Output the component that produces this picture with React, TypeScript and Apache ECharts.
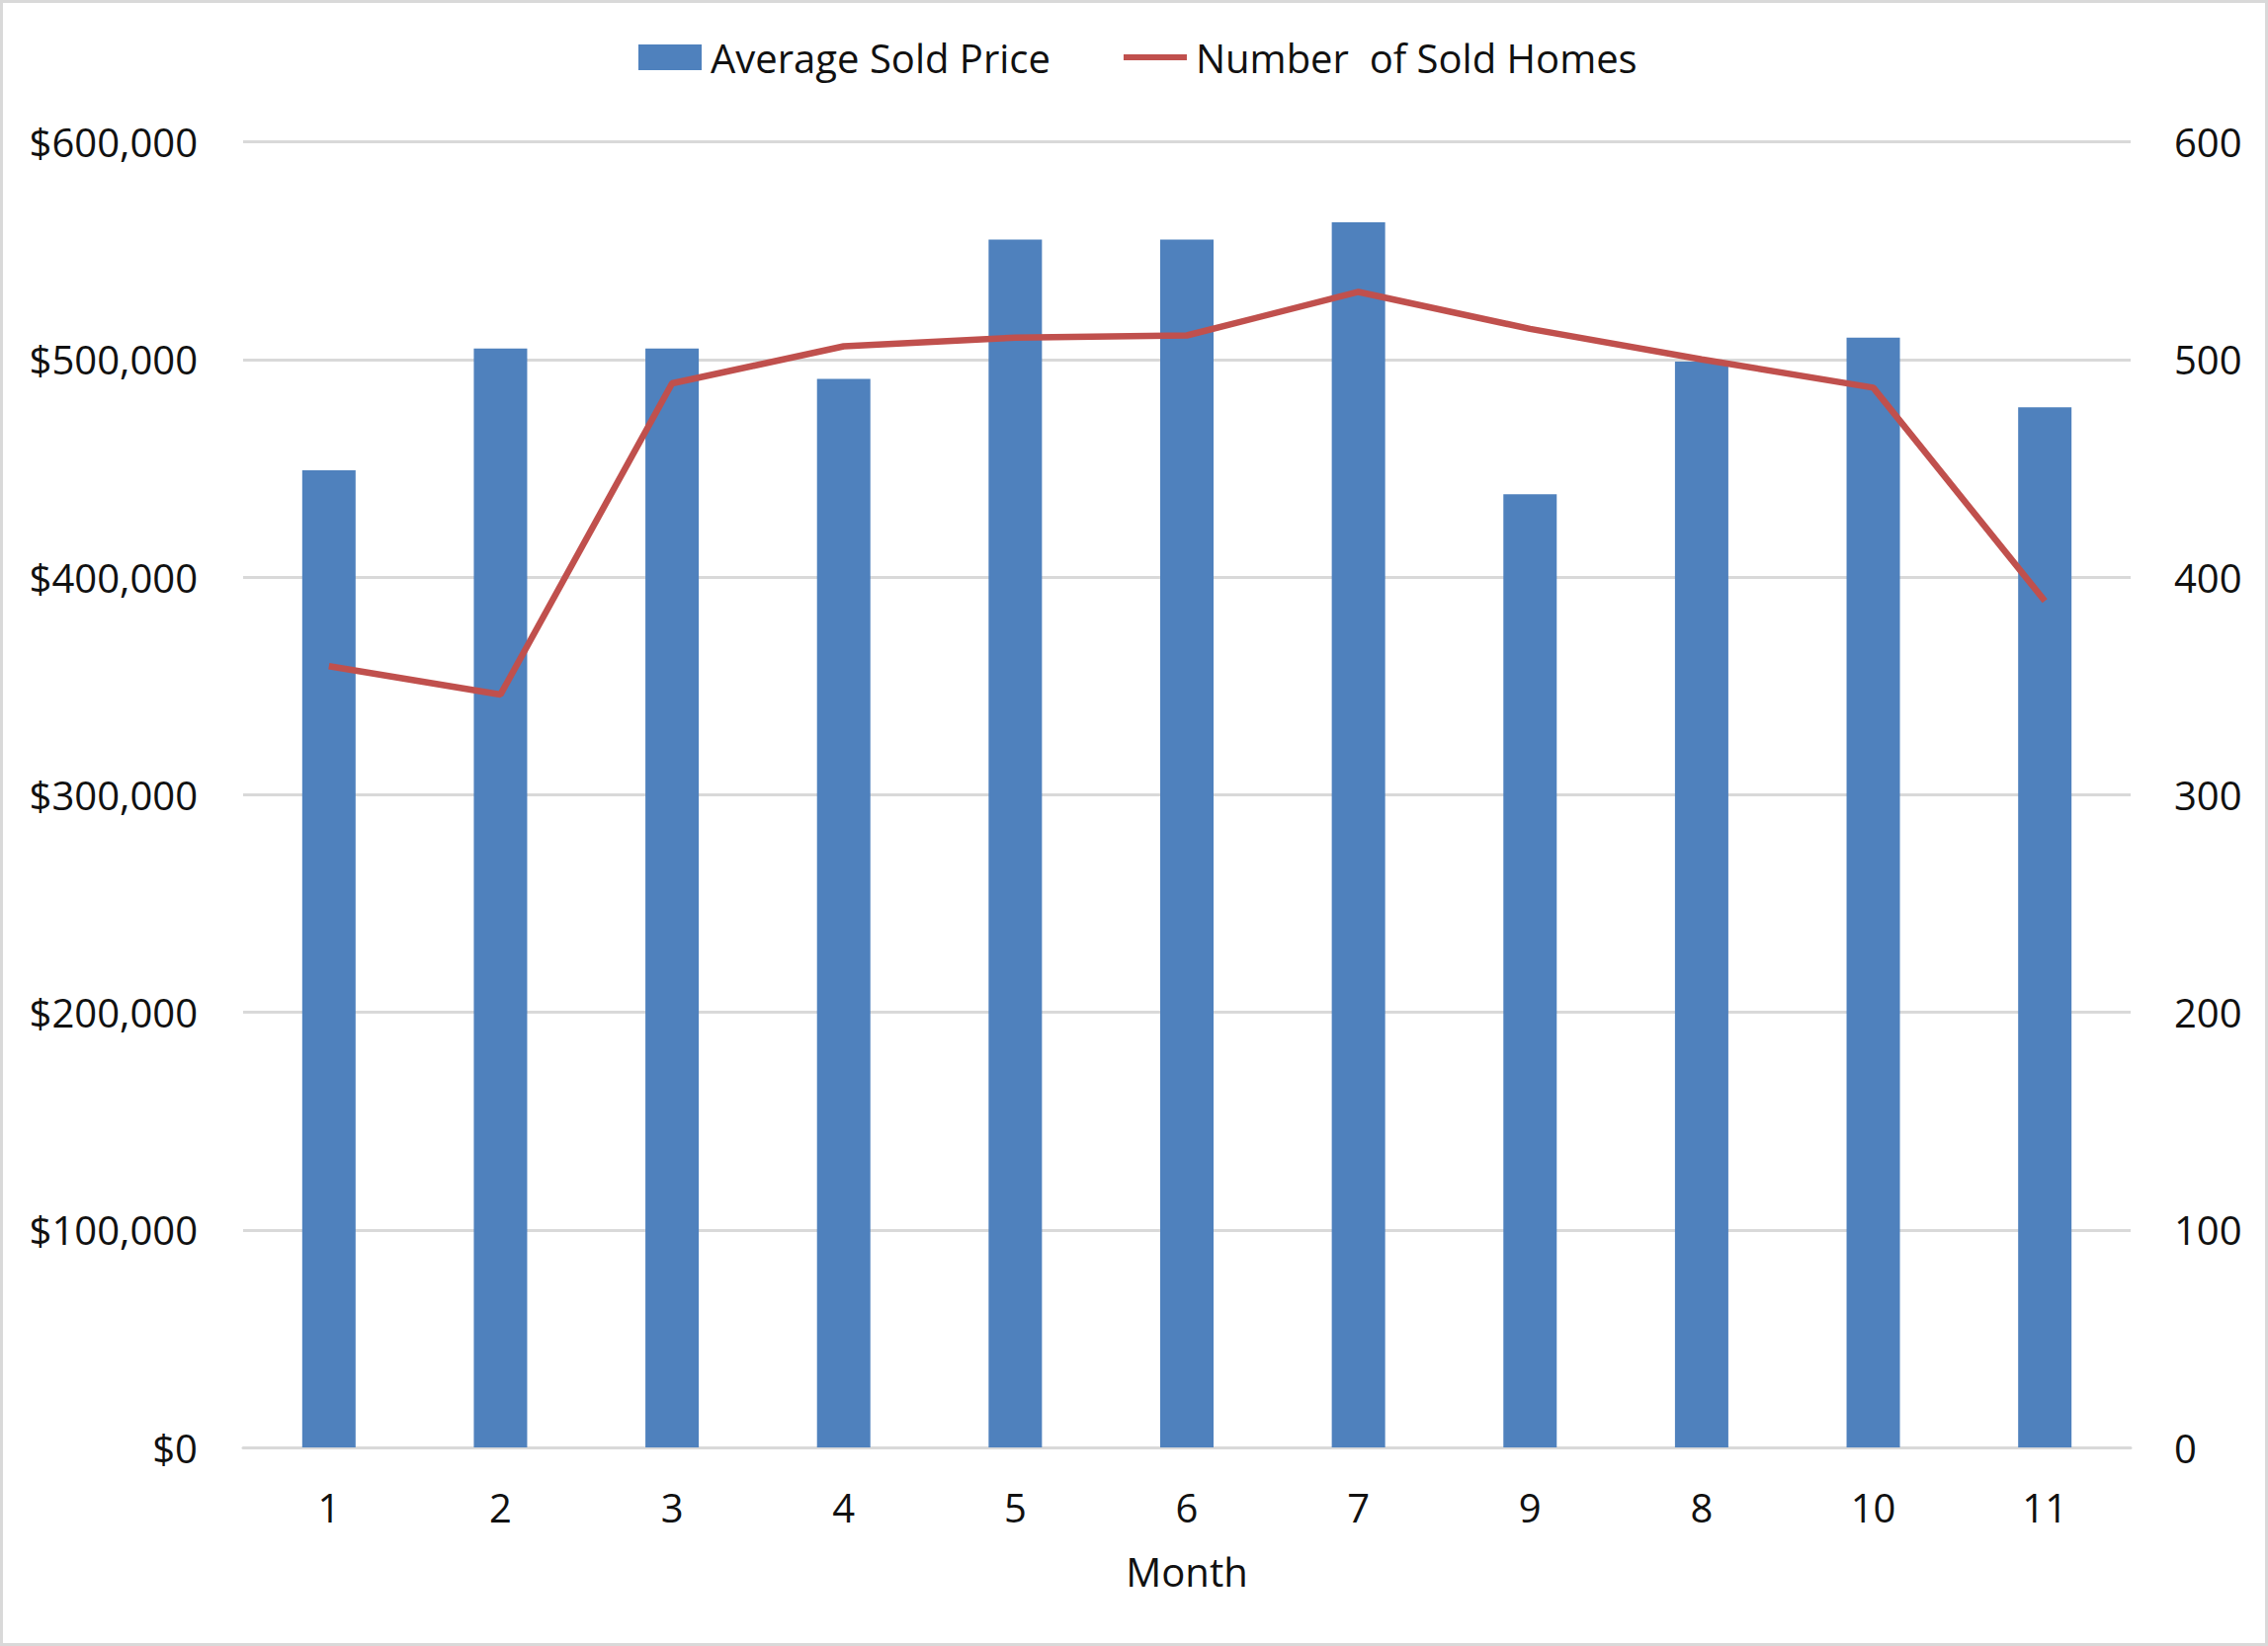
import React, { useEffect, useRef } from "react";
import * as echarts from "echarts";

const months = ["1", "2", "3", "4", "5", "6", "7", "9", "8", "10", "11"];
const avgSoldPrice = [449000, 505000, 505000, 491000, 555000, 555000, 563000, 438000, 499000, 510000, 478000];
const soldHomes = [359, 346, 489, 506, 510, 511, 531, 514, 500, 487, 389];
const priceTicks = { min: 0, max: 600000, interval: 100000 };
const homesTicks = { min: 0, max: 600, interval: 100 };

const FONT = "'Open Sans', 'Noto Sans', sans-serif";

function fmtMoney(v: number) {
  return "$" + v.toString().replace(/\B(?=(\d{3})+(?!\d))/g, ",");
}

// thin horizontal line icon inside a 64x26 box (tiny corner dots fix the bounding box)
const LINE_ICON =
  "path://M0,0 h0.01 v0.01 h-0.01 Z M0,10 H64 V16 H0 Z M63.99,25.99 h0.01 v0.01 h-0.01 Z";

export default function App() {
  const ref = useRef<HTMLDivElement>(null);
  useEffect(() => {
    if (!ref.current) return;
    const chart = echarts.init(ref.current, undefined, { renderer: "svg" });
    chart.setOption({
      animation: false,
      backgroundColor: "transparent",
      textStyle: { fontFamily: FONT },
      legend: {
        left: 641,
        top: 33,
        itemWidth: 64,
        itemHeight: 26,
        itemGap: 74,
        textStyle: { fontSize: 40, color: "#111", fontFamily: FONT, padding: [0, 0, 0, 4] },
        data: [
          { name: "Average Sold Price", icon: "rect" },
          { name: "Number  of Sold Homes", icon: LINE_ICON },
        ],
      },
      grid: { left: 246, right: 139, top: 143.5, bottom: 201, containLabel: false },
      xAxis: {
        type: "category",
        data: months,
        name: "Month",
        nameLocation: "middle",
        nameGap: 105,
        nameTextStyle: { fontSize: 40, color: "#111", fontFamily: FONT },
        axisLine: { lineStyle: { color: "#d9d9d9", width: 3 } },
        axisTick: { show: false },
        axisLabel: { fontSize: 40, color: "#111", margin: 40, fontFamily: FONT },
      },
      yAxis: [
        {
          type: "value",
          min: priceTicks.min,
          max: priceTicks.max,
          interval: priceTicks.interval,
          axisLine: { show: false },
          axisTick: { show: false },
          splitLine: { lineStyle: { color: "#d9d9d9", width: 3 } },
          axisLabel: {
            fontSize: 40,
            color: "#111",
            margin: 46,
            fontFamily: FONT,
            formatter: (v: number) => fmtMoney(v),
          },
        },
        {
          type: "value",
          min: homesTicks.min,
          max: homesTicks.max,
          interval: homesTicks.interval,
          axisLine: { show: false },
          axisTick: { show: false },
          splitLine: { show: false },
          axisLabel: { fontSize: 40, color: "#111", margin: 44, fontFamily: FONT },
        },
      ],
      series: [
        {
          name: "Average Sold Price",
          type: "bar",
          data: avgSoldPrice,
          barWidth: 54,
          itemStyle: { color: "#4f81bd" },
          yAxisIndex: 0,
        },
        {
          name: "Number  of Sold Homes",
          type: "line",
          data: soldHomes,
          yAxisIndex: 1,
          symbol: "none",
          lineStyle: { color: "#c0504d", width: 6.5 },
          itemStyle: { color: "#c0504d" },
        },
      ],
    });
    return () => chart.dispose();
  }, []);
  return (
    <div
      style={{
        position: "fixed",
        left: 0,
        top: 0,
        width: 2295,
        height: 1666,
        boxSizing: "border-box",
        border: "3px solid #d9d9d9",
        background: "#fff",
      }}
    >
      <div ref={ref} style={{ position: "absolute", left: -3, top: -3, width: 2295, height: 1666 }} />
    </div>
  );
}
